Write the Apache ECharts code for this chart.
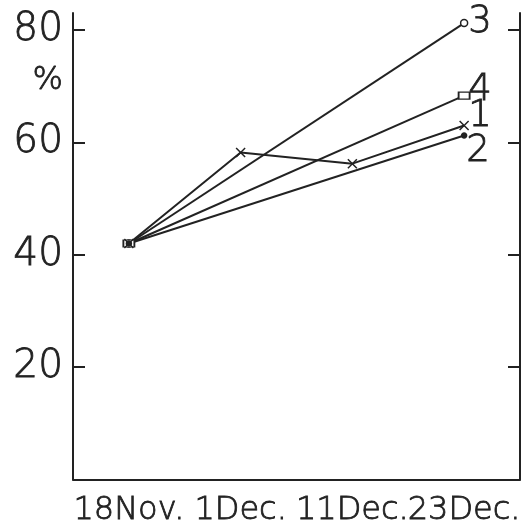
<!DOCTYPE html>
<html>
<head>
<meta charset="utf-8">
<script src="https://cdn.jsdelivr.net/npm/echarts@6/dist/echarts.min.js"></script>
<style>
  html, body { margin: 0; padding: 0; background: #fff; }
  #main { width: 529px; height: 527px; }
</style>
</head>
<body>
<div id="main"></div>
<script>
// dates on the x axis
var dates = ['18Nov.', '1Dec.', '11Dec.', '23Dec.'];
// % values, null = not measured on that date
var series1 = [42, 58.2, 56.2, 63];
var series2 = [42, null, null, 61.2];
var series3 = [42, null, null, 81.2];
var series4 = [42, null, null, 68.3];
var yTicks = [20, 40, 60, 80];

var ink = '#222';
var font = '"DejaVu Sans", sans-serif';

var chart = echarts.init(document.getElementById('main'));

function line(name, data, symbol, size, fill, offset) {
  return {
    name: name,
    type: 'line',
    data: data,
    connectNulls: true,
    showAllSymbol: true,
    symbol: symbol,
    symbolSize: size,
    lineStyle: { color: ink, width: 2 },
    itemStyle: { color: fill, borderColor: ink, borderWidth: 1.5 },
    emphasis: { disabled: true },
    endLabel: {
      show: true,
      formatter: name,
      color: ink,
      fontFamily: font,
      fontWeight: 200,
      fontSize: 37,
      textBorderColor: ink,
      textBorderWidth: 0.8,
      distance: 4,
      offset: offset
    },
    z: 3
  };
}

var option = {
  animation: false,
  backgroundColor: '#fff',
  grid: { left: 73, right: 9, top: 13, bottom: 46 },
  xAxis: {
    type: 'category',
    data: dates,
    boundaryGap: true,
    axisLine: { lineStyle: { color: ink, width: 2 } },
    axisTick: { alignWithLabel: true, length: 9, lineStyle: { color: ink, width: 2 } },
    axisLabel: { interval: 0, color: ink, fontFamily: font, fontWeight: 200,
      fontSize: 32, margin: 15, textBorderColor: ink, textBorderWidth: 0.8 }
  },
  yAxis: [
    {
      type: 'value',
      min: 0,
      max: 83,
      interval: 20,
      splitLine: { show: false },
      axisLine: { show: true, lineStyle: { color: ink, width: 2 } },
      axisTick: { show: true, inside: true, length: 12, lineStyle: { color: ink, width: 2 },
        customValues: yTicks },
      axisLabel: { color: ink, fontFamily: font, fontWeight: 200, fontSize: 39, margin: 10,
        textBorderColor: ink, textBorderWidth: 0.8, customValues: yTicks }
    },
    {
      type: 'value',
      position: 'right',
      min: 0,
      max: 83,
      interval: 20,
      splitLine: { show: false },
      axisLine: { show: true, lineStyle: { color: ink, width: 2 } },
      axisTick: { show: true, inside: true, length: 12, lineStyle: { color: ink, width: 2 },
        customValues: yTicks },
      axisLabel: { show: false }
    }
  ],
  graphic: [
    { type: 'text', left: 32, top: 64,
      style: { text: '%', fill: ink, stroke: ink, lineWidth: 0.8,
        font: '200 32px ' + font } }
  ],
  series: [
    line('3', series3, 'circle', 7, '#fff', [0, -1]),
    line('4', series4, 'rect', [11, 7], '#fff', [0, -5]),
    line('1', series1, 'path://M0,0L10,10M10,0L0,10', 9, 'none', [0, -9]),
    line('2', series2, 'circle', 5, ink, [-2, 16])
  ]
};
chart.setOption(option);
</script>
</body>
</html>
